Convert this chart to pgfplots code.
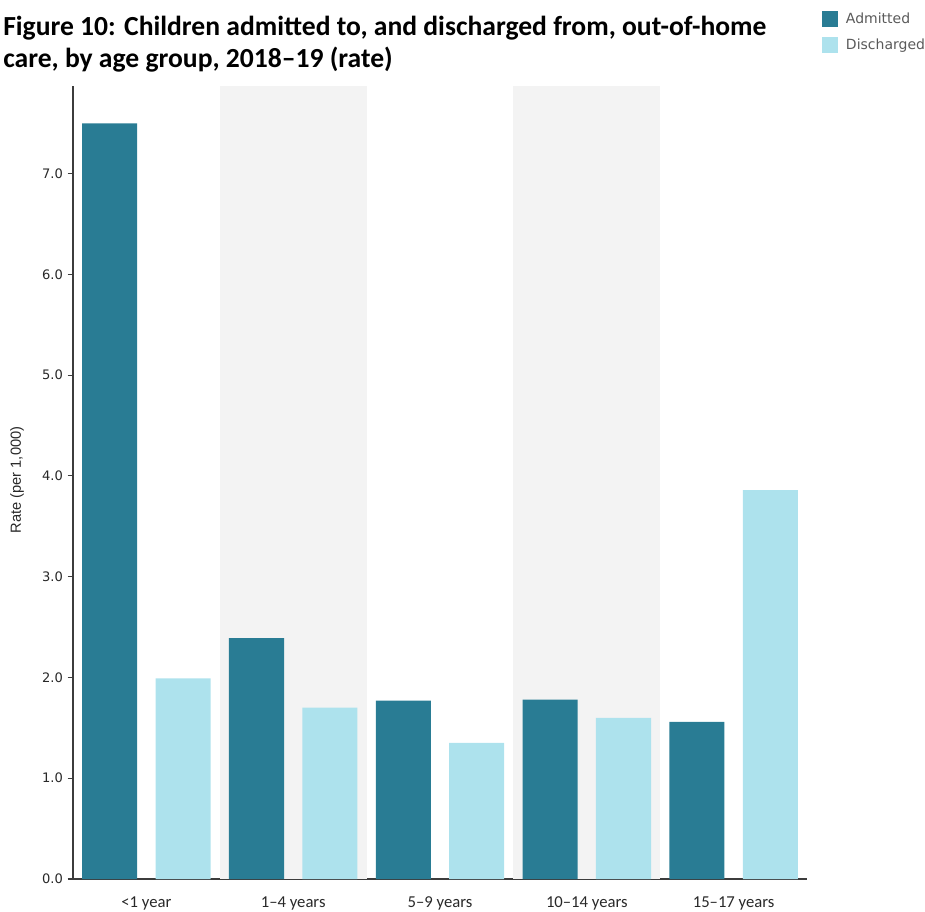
\documentclass[border=0pt]{standalone}
\usepackage{pgfplots}
\usepackage{pgfplotstable}
\pgfplotsset{compat=1.18}
\usepackage{fontspec}
\setmainfont{Carlito}
\newfontfamily\tickfont{DejaVu Sans}
\newfontfamily\labfont{Liberation Sans}
\definecolor{adm}{RGB}{41,124,148}
\definecolor{dis}{RGB}{173,226,237}
\definecolor{band}{RGB}{243,243,243}
\definecolor{axisgray}{RGB}{60,60,60}
\definecolor{txt}{RGB}{40,40,40}
\definecolor{legtxt}{RGB}{90,90,90}
\pgfplotstableread{
x adm dis
0 7.50 1.99
1 2.39 1.70
2 1.77 1.35
3 1.78 1.60
4 1.56 3.86
}\datatable
\begin{document}
\begin{tikzpicture}
\useasboundingbox (-54.75pt,-24pt) rectangle (639pt,659.25pt);
\begin{axis}[
  at={(0pt,0pt)}, anchor=south west,
  scale only axis, width=550.5pt, height=594.75pt,
  xmin=-0.5, xmax=4.5, ymin=0, ymax=7.87,
  axis lines*=left,
  axis line style={axisgray, line width=1pt, -},
  xtick={0,1,2,3,4},
  xticklabels={<1 year, 1–4 years, 5–9 years, 10–14 years, 15–17 years},
  xtick style={draw=none},
  xticklabel style={anchor=base, yshift=-17.5pt, font=\fontsize{12.5}{14}\selectfont, text=txt},
  ytick={0,1,2,3,4,5,6,7},
  ytick style={axisgray, line width=0.8pt},
  tick align=outside, major tick length=4pt,
  yticklabel style={font=\tickfont\fontsize{9.8}{11}\selectfont, text=txt},
  /pgf/number format/.cd, fixed, fixed zerofill, precision=1, assume math mode=true,
  /pgfplots/.cd,
  clip=false,
  legend style={at={(axis description cs:1.0195,1.096)}, anchor=north west,
    draw=none, fill=none, font=\tickfont\fontsize{10.5}{12}\selectfont, text=legtxt,
    row sep=6pt, inner sep=0pt,
    /tikz/every odd column/.append style={column sep=4pt}},
  legend cell align=left,
  legend image code/.code={\fill[#1] (0pt,-6pt) rectangle (12.3pt,6pt);},
]
\fill[band] (axis cs:0.5,0) rectangle (axis cs:1.5,7.87);
\fill[band] (axis cs:2.5,0) rectangle (axis cs:3.5,7.87);
\addplot[ybar, bar width=0.375, bar shift=-0.25, fill=adm, draw=none] table[x=x,y=adm]{\datatable};
\addlegendentry{Admitted}
\addplot[ybar, bar width=0.375, bar shift=0.25, fill=dis, draw=none] table[x=x,y=dis]{\datatable};
\addlegendentry{Discharged}
\end{axis}
\node[anchor=base west, font=\bfseries\fontsize{20.7}{24}\selectfont, text=black, inner sep=0pt]
  at (-52.5pt,632.25pt) {Figure 10: Children admitted to, and discharged from, out-of-home};
\node[anchor=base west, font=\bfseries\fontsize{20.7}{24}\selectfont, text=black, inner sep=0pt]
  at (-52.5pt,608.25pt) {care, by age group, 2018–19 (rate)};
\node[rotate=90, font=\labfont\fontsize{11}{13}\selectfont, text=txt] at (-42pt,299.25pt) {Rate (per 1,000)};
\end{tikzpicture}
\end{document}
